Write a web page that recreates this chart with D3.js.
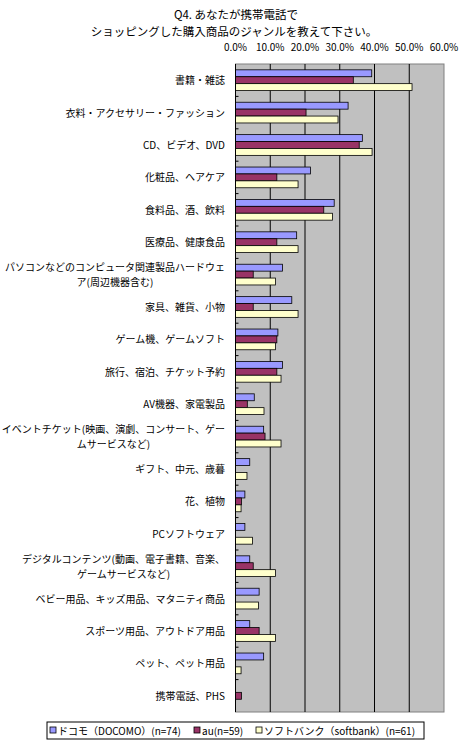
<!DOCTYPE html>
<html>
<head>
<meta charset="utf-8">
<script src="https://cdn.jsdelivr.net/npm/d3@7"></script>
<style>
  body { margin: 0; background: #fff; }
  text { font-family: "Noto Sans CJK JP", sans-serif; fill: #000; }
</style>
</head>
<body>
<svg id="chart"></svg>
<script>
// categories (multi-line labels split with "|")
const categories = [
    "書籍・雑誌",
    "衣料・アクセサリー・ファッション",
    "CD、ビデオ、DVD",
    "化粧品、ヘアケア",
    "食料品、酒、飲料",
    "医療品、健康食品",
    "パソコンなどのコンピュータ関連製品ハードウェ|ア(周辺機器含む)",
    "家具、雑貨、小物",
    "ゲーム機、ゲームソフト",
    "旅行、宿泊、チケット予約",
    "AV機器、家電製品",
    "イベントチケット(映画、演劇、コンサート、ゲー|ムサービスなど)",
    "ギフト、中元、歳暮",
    "花、植物",
    "PCソフトウェア",
    "デジタルコンテンツ(動画、電子書籍、音楽、|ゲームサービスなど)",
    "ベビー用品、キッズ用品、マタニティ商品",
    "スポーツ用品、アウトドア用品",
    "ペット、ペット用品",
    "携帯電話、PHS"
];

const seriesNames = ["ドコモ（DOCOMO）(n=74)", "au(n=59)", "ソフトバンク（softbank）(n=61)"];

// percentages
const docomo   = [39.2, 32.4, 36.5, 21.6, 28.4, 17.6, 13.5, 16.2, 12.2, 13.5, 5.4, 8.1, 4.1, 2.7, 2.7, 4.1, 6.8, 4.1, 8.1, 0];
const au       = [33.9, 20.3, 35.6, 11.9, 25.4, 11.9, 5.1, 5.1, 11.9, 11.9, 3.4, 8.5, 0, 1.7, 0, 5.1, 0, 6.8, 0, 1.7];
const softbank = [50.8, 29.5, 39.3, 18.0, 27.9, 18.0, 11.5, 18.0, 11.5, 13.1, 8.2, 13.1, 3.3, 1.6, 4.9, 11.5, 6.6, 11.5, 1.6, 0];

const xTicks = [0, 10, 20, 30, 40, 50, 60];

const colors = ["#9999FF", "#993366", "#FFFFCC"];

const width = 460, height = 742;
const plot = { left: 235.5, right: 444, top: 64, bottom: 712 };

const svg = d3.select("#chart")
    .attr("width", width)
    .attr("height", height);

// title
svg.append("text")
    .attr("x", 236).attr("y", 19)
    .attr("text-anchor", "middle")
    .style("font-size", "11.5px")
    .text("Q4. あなたが携帯電話で");
svg.append("text")
    .attr("x", 234).attr("y", 36)
    .attr("text-anchor", "middle")
    .style("font-size", "11.5px")
    .text("ショッピングした購入商品のジャンルを教えて下さい。");

const x = d3.scaleLinear().domain([0, 60]).range([plot.left, plot.right]);
const y = d3.scaleBand().domain(d3.range(categories.length))
    .range([plot.top, plot.bottom]).paddingInner(0.36).paddingOuter(0.18);
const ySub = d3.scaleBand().domain([0, 1, 2]).range([0, y.bandwidth()]);

// plot background
svg.append("rect")
    .attr("x", plot.left).attr("y", plot.top)
    .attr("width", plot.right - plot.left).attr("height", plot.bottom - plot.top)
    .attr("fill", "#C0C0C0")
    .attr("stroke", "#808080");

// gridlines
svg.append("g").selectAll("line")
    .data(xTicks.slice(1, -1))
    .enter().append("line")
    .attr("x1", d => x(d)).attr("x2", d => x(d))
    .attr("y1", plot.top).attr("y2", plot.bottom)
    .attr("stroke", "#000");

// top axis labels
svg.append("g").selectAll("text")
    .data(xTicks)
    .enter().append("text")
    .attr("x", d => x(d)).attr("y", 51)
    .attr("text-anchor", "middle")
    .style("font-size", "10px")
    .text(d => d.toFixed(1) + "%");

// bars
const series = [docomo, au, softbank];
const groups = svg.append("g").selectAll("g")
    .data(categories)
    .enter().append("g")
    .attr("transform", (d, i) => `translate(0,${y(i)})`);

groups.selectAll("rect")
    .data((d, i) => series.map((s, k) => ({ k: k, v: s[i] })).filter(d => d.v > 0))
    .enter().append("rect")
    .attr("x", x(0))
    .attr("y", d => ySub(d.k))
    .attr("width", d => x(d.v) - x(0))
    .attr("height", ySub.bandwidth())
    .attr("fill", d => colors[d.k])
    .attr("stroke", "#000")
    .attr("stroke-width", 0.8);

// category axis line + ticks
svg.append("line")
    .attr("x1", plot.left).attr("x2", plot.left)
    .attr("y1", plot.top).attr("y2", plot.bottom)
    .attr("stroke", "#000");
const step = (plot.bottom - plot.top) / categories.length;
svg.append("g").selectAll("line")
    .data(d3.range(1, categories.length))
    .enter().append("line")
    .attr("x1", plot.left).attr("x2", plot.left + 3)
    .attr("y1", d => plot.top + d * step).attr("y2", d => plot.top + d * step)
    .attr("stroke", "#000");

// category labels: single lines right-aligned, wrapped ones centred on the first line
const labelRight = 225;
const labels = svg.append("g").selectAll("text")
    .data(categories)
    .enter().append("text")
    .style("font-size", "10px")
    .attr("transform", (d, i) => `translate(0,${y(i) + y.bandwidth() / 2})`);

labels.each(function(d) {
    const lines = d.split("|");
    const t = d3.select(this);
    if (lines.length === 1) {
        t.attr("text-anchor", "end").attr("x", labelRight).attr("y", 4).text(d);
        return;
    }
    t.attr("text-anchor", "middle");
    const spans = lines.map((ln, j) => t.append("tspan")
        .attr("y", (j - (lines.length - 1) / 2) * 15 + 4)
        .text(ln));
    const w = spans[0].node().getComputedTextLength();
    spans.forEach(s => s.attr("x", labelRight - w / 2));
});

// legend
const legend = svg.append("g");
legend.append("rect")
    .attr("x", 47).attr("y", 722)
    .attr("width", 377).attr("height", 17)
    .attr("fill", "#fff")
    .attr("stroke", "#000");

const legendX = [50, 194, 256];
seriesNames.forEach((name, k) => {
    legend.append("rect")
        .attr("x", legendX[k]).attr("y", 727)
        .attr("width", 6).attr("height", 6)
        .attr("fill", colors[k])
        .attr("stroke", "#000")
        .attr("stroke-width", 0.8);
    legend.append("text")
        .attr("x", legendX[k] + 8).attr("y", 734.5)
        .style("font-size", "10px")
        .text(name);
});
</script>
</body>
</html>
